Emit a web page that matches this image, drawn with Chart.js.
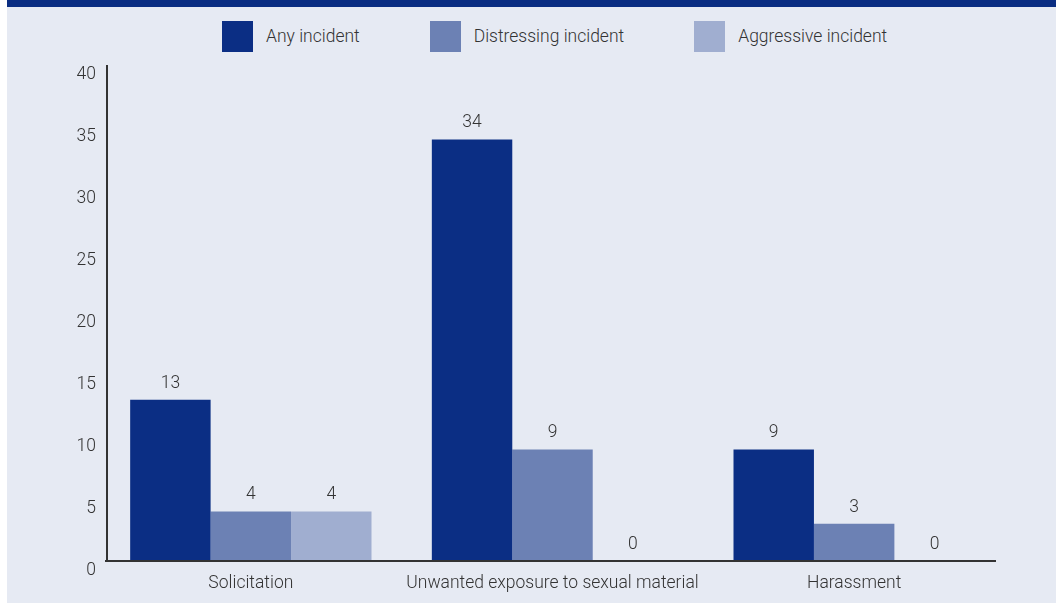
<!DOCTYPE html>
<html>
<head>
<meta charset="utf-8">
<script src="https://cdn.jsdelivr.net/npm/chart.js@4/dist/chart.umd.min.js"></script>
<style>
  html, body { margin: 0; padding: 0; background: #ffffff; }
  body { width: 1056px; height: 603px; position: relative; overflow: hidden;
         font-family: Roboto, "Liberation Sans", sans-serif; }
  #panel { position: absolute; left: 7px; top: 0; width: 1049px; height: 603px; background: #E6EAF3; }
  #strip { position: absolute; left: 0; top: 0; width: 1049px; height: 7px; background: #0A2D82; }
  #legend { position: absolute; left: 215px; top: 21px; display: flex; align-items: center; }
  #legend .item { display: flex; align-items: center; margin-right: 70px; }
  #legend .box { width: 31px; height: 31px; margin-right: 13px; }
  #legend .txt { font-size: 17.5px; font-weight: 300; color: #333333; line-height: 31px; white-space: nowrap; }
  #wrap { position: absolute; left: 0; top: 7px; width: 1049px; height: 596px; }
</style>
</head>
<body>
<div id="panel">
  <div id="strip"></div>
  <div id="legend"></div>
  <div id="wrap"><canvas id="chart"></canvas></div>
</div>
<script>
// Categories, series and axis ticks
const categories = ['Solicitation', 'Unwanted exposure to sexual material', 'Harassment'];
const anyIncident = [13, 34, 9];
const distressingIncident = [4, 9, 3];
const aggressiveIncident = [4, 0, 0];
const seriesNames = ['Any incident', 'Distressing incident', 'Aggressive incident'];
const seriesColors = ['#0B2E84', '#6C81B4', '#A0AED0'];
const yTicks = [0, 5, 10, 15, 20, 25, 30, 35, 40];

const TEXT = '#333333';
const FONT = { family: 'Roboto, "Liberation Sans", sans-serif', size: 17.5, weight: 300 };

// Value labels above each bar
const valueLabels = {
  id: 'valueLabels',
  afterDatasetsDraw(chart) {
    const ctx = chart.ctx;
    ctx.save();
    ctx.font = `${FONT.weight} ${FONT.size}px ${FONT.family}`;
    ctx.fillStyle = TEXT;
    ctx.textAlign = 'center';
    ctx.textBaseline = 'alphabetic';
    chart.data.datasets.forEach((ds, di) => {
      chart.getDatasetMeta(di).data.forEach((bar, i) => {
        ctx.fillText(String(ds.data[i]), bar.x, bar.y - 12);
      });
    });
    ctx.restore();
  }
};

// Axis lines: left spine and baseline
const axisLines = {
  id: 'axisLines',
  afterDatasetsDraw(chart) {
    const { ctx, chartArea } = chart;
    const y = chart.scales.y;
    const base = y.getPixelForValue(0);
    ctx.save();
    ctx.strokeStyle = '#333333';
    ctx.lineWidth = 2;
    ctx.beginPath();
    ctx.moveTo(chartArea.left + 5, base);
    ctx.lineTo(chartArea.right - 9, base);
    ctx.moveTo(chartArea.left + 7, base);
    ctx.lineTo(chartArea.left + 7, y.getPixelForValue(40));
    ctx.stroke();
    ctx.restore();
  }
};

// Legend built as HTML from the chart's own legend items
const htmlLegend = {
  id: 'htmlLegend',
  afterUpdate(chart) {
    const box = document.getElementById('legend');
    box.innerHTML = '';
    const items = chart.options.plugins.legend.labels.generateLabels(chart);
    items.forEach(item => {
      const el = document.createElement('div');
      el.className = 'item';
      const sw = document.createElement('span');
      sw.className = 'box';
      sw.style.background = item.fillStyle;
      const tx = document.createElement('span');
      tx.className = 'txt';
      tx.textContent = item.text;
      el.appendChild(sw);
      el.appendChild(tx);
      box.appendChild(el);
    });
  }
};

new Chart(document.getElementById('chart'), {
  type: 'bar',
  data: {
    labels: categories,
    datasets: [
      { label: seriesNames[0], data: anyIncident, backgroundColor: seriesColors[0] },
      { label: seriesNames[1], data: distressingIncident, backgroundColor: seriesColors[1] },
      { label: seriesNames[2], data: aggressiveIncident, backgroundColor: seriesColors[2] }
    ]
  },
  options: {
    responsive: true,
    maintainAspectRatio: false,
    animation: false,
    events: [],
    layout: { padding: { top: 58, right: 51, left: 0, bottom: 0 } },
    datasets: { bar: { barPercentage: 1, categoryPercentage: 0.8, borderWidth: 0 } },
    plugins: {
      legend: { display: false },
      tooltip: { enabled: false },
      title: { display: false }
    },
    scales: {
      x: {
        grid: { display: false, drawTicks: false },
        border: { display: false },
        ticks: { color: TEXT, font: FONT, padding: 12, maxRotation: 0, autoSkip: false },
        afterFit(scale) { scale.height = 42; }
      },
      y: {
        min: 0,
        max: 40,
        grid: { display: false, drawTicks: false },
        border: { display: false },
        afterBuildTicks(scale) { scale.ticks = yTicks.map(v => ({ value: v })); },
        ticks: { color: TEXT, font: FONT, padding: 4, labelOffset: 10 },
        afterFit(scale) { scale.width = 93; }
      }
    }
  },
  plugins: [valueLabels, axisLines, htmlLegend]
});
</script>
</body>
</html>
